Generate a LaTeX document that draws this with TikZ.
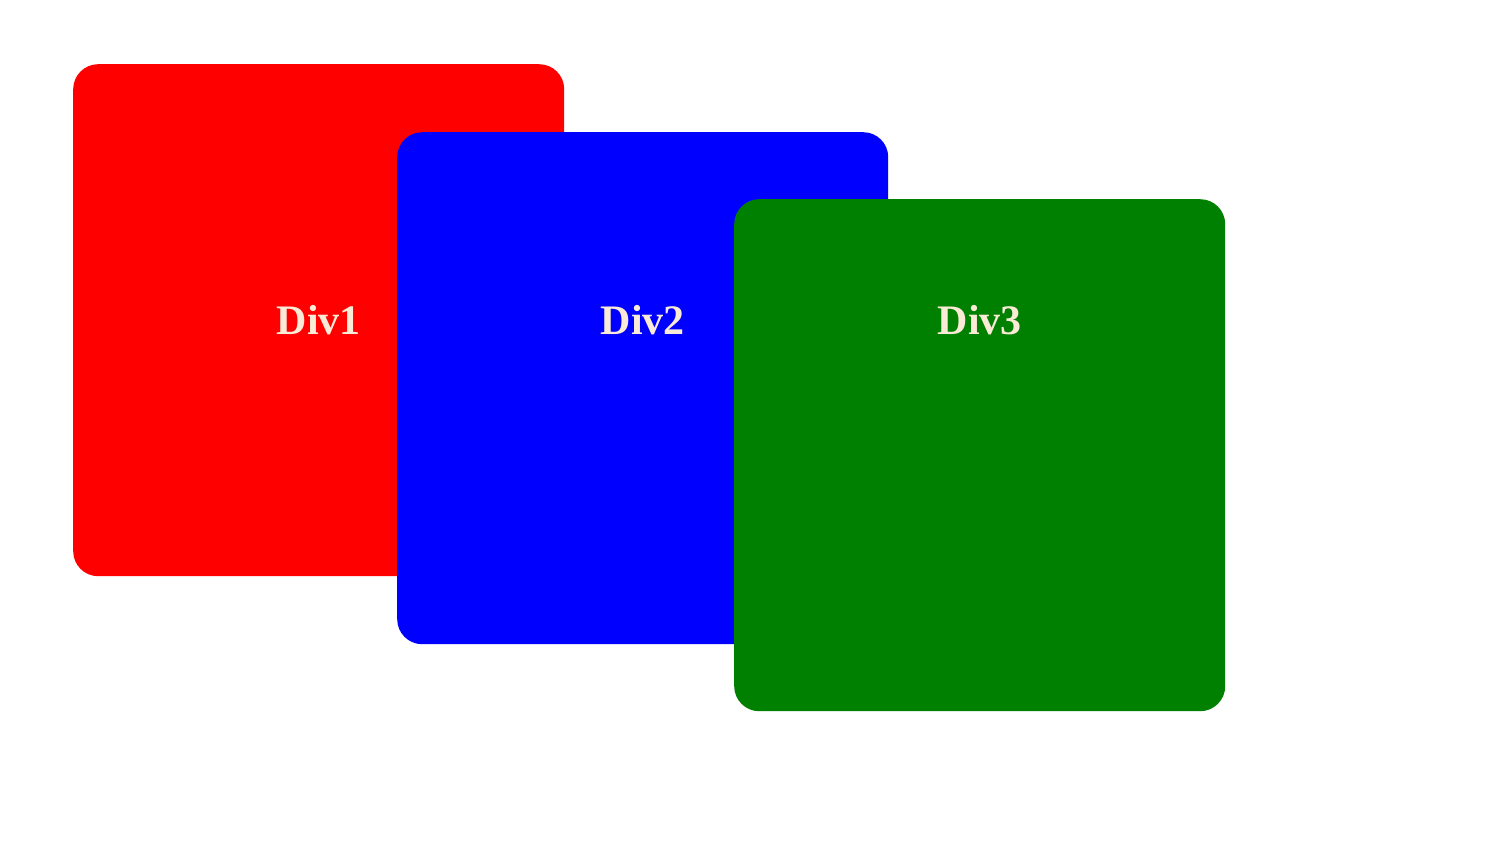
\documentclass[tikz,border=0pt]{standalone}
\usepackage{fontspec}
\setmainfont{Liberation Serif}
\usepackage{xcolor}
\usetikzlibrary{positioning,calc}
\definecolor{divred}{HTML}{FF0000}
\definecolor{divblue}{HTML}{0000FF}
\definecolor{divgreen}{HTML}{008000}
\definecolor{divtext}{HTML}{FAEBD7}
\tikzset{
    panel/.style={rounded corners=25pt, minimum width=491pt, minimum height=512pt,
        anchor=north west, inner sep=0pt, draw=none},
    panellabel/.style={text=divtext, font=\bfseries\fontsize{42}{50}\selectfont,
        anchor=base, inner sep=0pt}
}
\begin{document}
\begin{tikzpicture}[x=1pt,y=-1pt]
    \useasboundingbox (0,0) rectangle (1506,853);

    \node [panel, fill=divred] (div1) at (73,64) {};
    \node [panel, fill=divblue] (div2) at (397,132) {};
    \node [panel, fill=divgreen] (div3) at (734,199) {};

    % labels sit on one line
    \node [panellabel] (lab1) at (div1.center |- 0,334) {Div1};
    \node [panellabel] (lab2) at (div2.center |- 0,334) {Div2};
    \node [panellabel] (lab3) at (div3.center |- 0,334) {Div3};
\end{tikzpicture}
\end{document}
